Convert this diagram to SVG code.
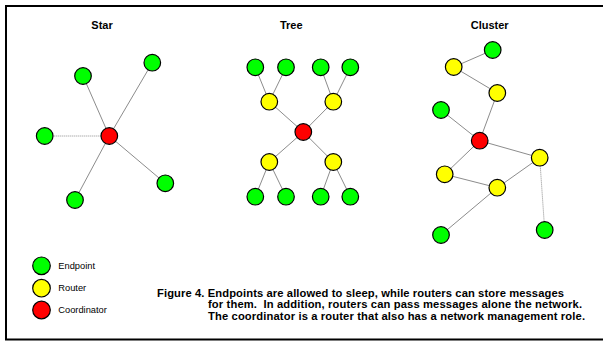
<svg xmlns="http://www.w3.org/2000/svg" width="603" height="341" viewBox="0 0 603 341">
<style>
.ep{fill:#00ff00;stroke:#000;stroke-width:1.2}
.rt{fill:#ffff00;stroke:#000;stroke-width:1.2}
.co{fill:#ff0000;stroke:#000;stroke-width:1.2}
.ln{stroke:#8c8c8c;stroke-width:1;fill:none}
.dt{stroke:#8c8c8c;stroke-width:1;stroke-dasharray:1 1;fill:none}
.title{font-family:"Liberation Sans",Arial,sans-serif;font-weight:bold;font-size:11px;fill:#000;text-anchor:middle}
.leg{font-family:"Liberation Sans",Arial,sans-serif;font-size:9.3px;fill:#000}
.cap{font-family:"Liberation Sans",Arial,sans-serif;font-weight:bold;font-size:11.2px;fill:#000;white-space:pre}
</style>
<rect x="0" y="0" width="603" height="341" fill="#fff"/>
<path d="M6 339.5 V6 H604 M5 339.5 H604" stroke="#000" stroke-width="2" fill="none"/>
<text class="title" x="102" y="29">Star</text>
<text class="title" x="291.3" y="29">Tree</text>
<text class="title" x="489.7" y="29">Cluster</text>
<g id="connectors">
<line class="ln" x1="109.3" y1="136" x2="83" y2="76"/>
<line class="ln" x1="109.3" y1="136" x2="152.3" y2="62.7"/>
<line class="dt" x1="109.3" y1="136" x2="44.7" y2="136"/>
<line class="ln" x1="109.3" y1="136" x2="165.3" y2="183.3"/>
<line class="ln" x1="109.3" y1="136" x2="75" y2="200"/>
<line class="ln" x1="269.3" y1="101.7" x2="255.3" y2="67.3"/>
<line class="ln" x1="269.3" y1="101.7" x2="286" y2="67.3"/>
<line class="ln" x1="333.3" y1="101.7" x2="320.7" y2="67.3"/>
<line class="ln" x1="333.3" y1="101.7" x2="350.3" y2="67.3"/>
<line class="ln" x1="303.3" y1="132" x2="269.3" y2="101.7"/>
<line class="ln" x1="303.3" y1="132" x2="333.3" y2="101.7"/>
<line class="ln" x1="303.3" y1="132" x2="269.3" y2="162"/>
<line class="ln" x1="303.3" y1="132" x2="333.3" y2="162"/>
<line class="ln" x1="269.3" y1="162" x2="255.3" y2="196.7"/>
<line class="ln" x1="269.3" y1="162" x2="286" y2="196.7"/>
<line class="ln" x1="333.3" y1="162" x2="320.7" y2="196.7"/>
<line class="ln" x1="333.3" y1="162" x2="350.3" y2="196.7"/>
<line class="ln" x1="492.7" y1="50" x2="453.7" y2="67"/>
<line class="ln" x1="453.7" y1="67" x2="497.3" y2="93"/>
<line class="ln" x1="497.3" y1="93" x2="479.7" y2="140.7"/>
<line class="ln" x1="441" y1="110" x2="479.7" y2="140.7"/>
<line class="ln" x1="479.7" y1="140.7" x2="539.7" y2="157.7"/>
<line class="ln" x1="479.7" y1="140.7" x2="444.7" y2="174.3"/>
<line class="ln" x1="444.7" y1="174.3" x2="497.3" y2="187.7"/>
<line class="ln" x1="497.3" y1="187.7" x2="539.7" y2="157.7"/>
<line class="ln" x1="497.3" y1="187.7" x2="441" y2="235"/>
<line class="dt" x1="539.7" y1="157.7" x2="544.7" y2="230"/>
</g>
<g id="star-coordinator"><circle class="co" cx="109.3" cy="136" r="8.3"/></g>
<g id="star-ep1"><circle class="ep" cx="83" cy="76" r="8.3"/></g>
<g id="star-ep2"><circle class="ep" cx="152.3" cy="62.7" r="8.3"/></g>
<g id="star-ep3"><circle class="ep" cx="44.7" cy="136" r="8.3"/></g>
<g id="star-ep4"><circle class="ep" cx="165.3" cy="183.3" r="8.3"/></g>
<g id="star-ep5"><circle class="ep" cx="75" cy="200" r="8.3"/></g>
<g id="tree-ep1"><circle class="ep" cx="255.3" cy="67.3" r="8.3"/></g>
<g id="tree-ep2"><circle class="ep" cx="286" cy="67.3" r="8.3"/></g>
<g id="tree-ep3"><circle class="ep" cx="320.7" cy="67.3" r="8.3"/></g>
<g id="tree-ep4"><circle class="ep" cx="350.3" cy="67.3" r="8.3"/></g>
<g id="tree-rt1"><circle class="rt" cx="269.3" cy="101.7" r="8.3"/></g>
<g id="tree-rt2"><circle class="rt" cx="333.3" cy="101.7" r="8.3"/></g>
<g id="tree-coordinator"><circle class="co" cx="303.3" cy="132" r="8.3"/></g>
<g id="tree-rt3"><circle class="rt" cx="269.3" cy="162" r="8.3"/></g>
<g id="tree-rt4"><circle class="rt" cx="333.3" cy="162" r="8.3"/></g>
<g id="tree-ep5"><circle class="ep" cx="255.3" cy="196.7" r="8.3"/></g>
<g id="tree-ep6"><circle class="ep" cx="286" cy="196.7" r="8.3"/></g>
<g id="tree-ep7"><circle class="ep" cx="320.7" cy="196.7" r="8.3"/></g>
<g id="tree-ep8"><circle class="ep" cx="350.3" cy="196.7" r="8.3"/></g>
<g id="cl-ep1"><circle class="ep" cx="492.7" cy="50" r="8.3"/></g>
<g id="cl-rt1"><circle class="rt" cx="453.7" cy="67" r="8.3"/></g>
<g id="cl-rt2"><circle class="rt" cx="497.3" cy="93" r="8.3"/></g>
<g id="cl-ep2"><circle class="ep" cx="441" cy="110" r="8.3"/></g>
<g id="cl-coordinator"><circle class="co" cx="479.7" cy="140.7" r="8.3"/></g>
<g id="cl-rt3"><circle class="rt" cx="539.7" cy="157.7" r="8.3"/></g>
<g id="cl-rt4"><circle class="rt" cx="444.7" cy="174.3" r="8.3"/></g>
<g id="cl-rt5"><circle class="rt" cx="497.3" cy="187.7" r="8.3"/></g>
<g id="cl-ep3"><circle class="ep" cx="441" cy="235" r="8.3"/></g>
<g id="cl-ep4"><circle class="ep" cx="544.7" cy="230" r="8.3"/></g>
<g id="legend">
<circle class="ep" cx="41.5" cy="265.8" r="8.8"/>
<circle class="rt" cx="41.5" cy="288.2" r="8.8"/>
<circle class="co" cx="41.5" cy="310" r="8.8"/>
<text class="leg" x="58.3" y="269">Endpoint</text>
<text class="leg" x="58.3" y="291.4">Router</text>
<text class="leg" x="58.3" y="313.2">Coordinator</text>
</g>
<g id="caption" class="cap">
<text x="157" y="297" textLength="407" lengthAdjust="spacing">Figure 4. Endpoints are allowed to sleep, while routers can store messages</text>
<text x="208" y="308.3" textLength="374" lengthAdjust="spacing">for them.&#160; In addition, routers can pass messages alone the network.</text>
<text x="208" y="319.6" textLength="377" lengthAdjust="spacing">The coordinator is a router that also has a network management role.</text>
</g>
</svg>
